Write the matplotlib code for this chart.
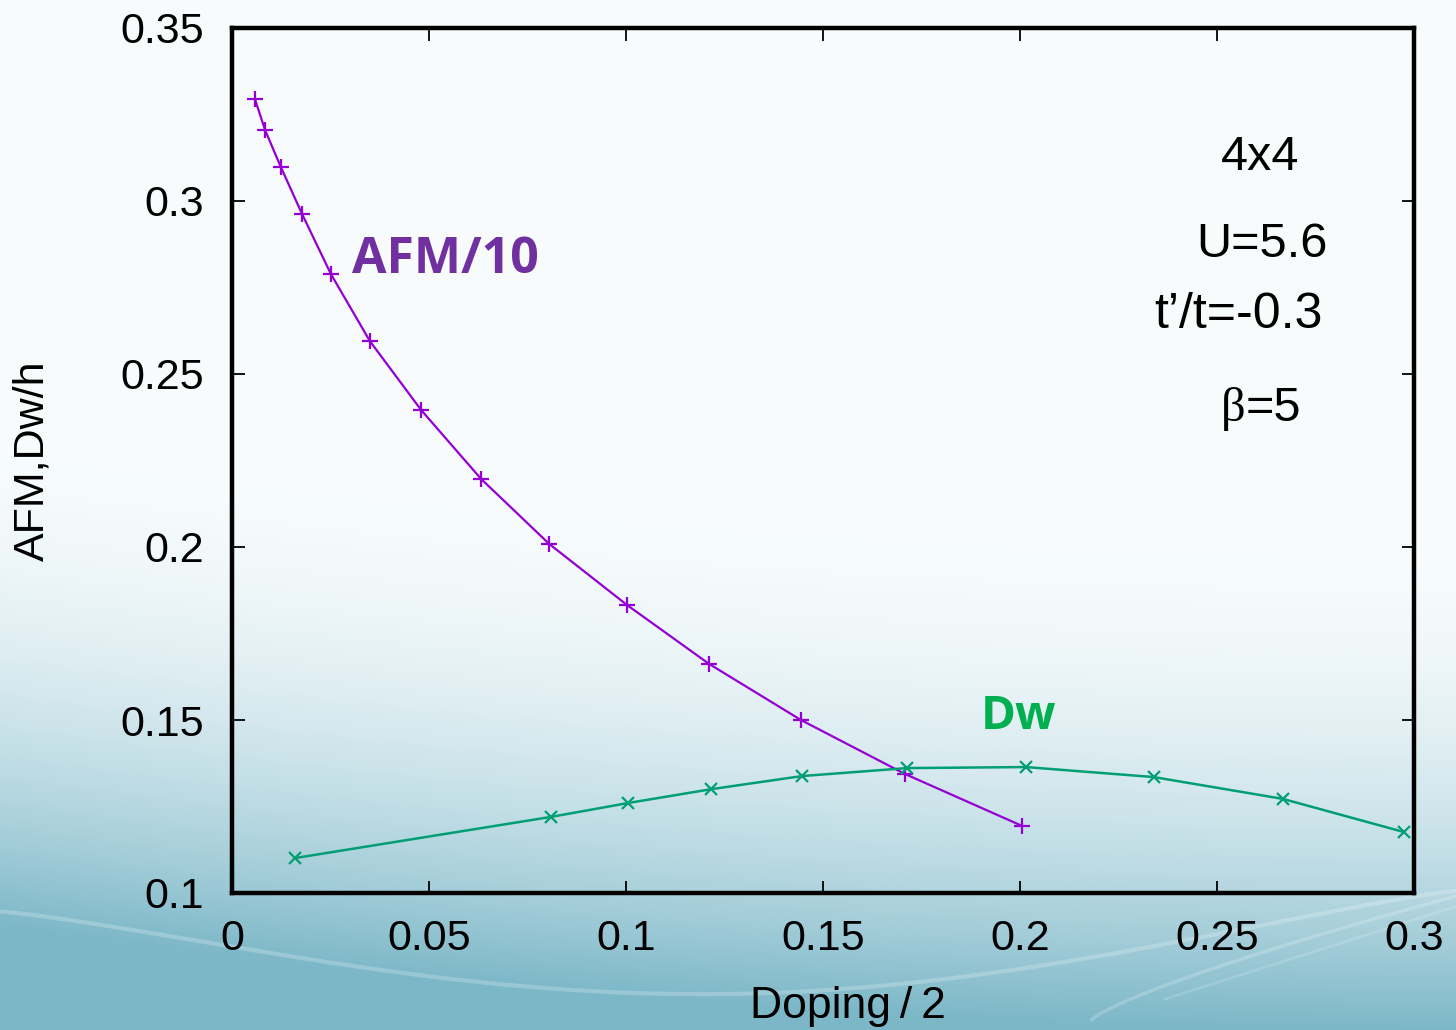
import numpy as np
import matplotlib
matplotlib.use("Agg")
import matplotlib.pyplot as plt

# Data: doping/2 versus AFM/10 and d-wave pairing
afm_x = [0.0058, 0.0084, 0.0124, 0.0178, 0.0251, 0.0350, 0.0480, 0.0632,
         0.0805, 0.1003, 0.1211, 0.1444, 0.1708, 0.2005]
afm_y = [0.3295, 0.3205, 0.3098, 0.2962, 0.2789, 0.2595, 0.2396, 0.2197,
         0.2009, 0.1832, 0.1662, 0.1500, 0.1344, 0.1194]

dw_x = [0.0160, 0.0810, 0.1005, 0.1216, 0.1447, 0.1713, 0.2015, 0.2340,
        0.2667, 0.2975]
dw_y = [0.1101, 0.1220, 0.1260, 0.1300, 0.1338, 0.1361, 0.1364, 0.1335,
        0.1272, 0.1176]

x_ticks = [0, 0.05, 0.1, 0.15, 0.2, 0.25, 0.3]
x_tick_labels = ["0", "0.05", "0.1", "0.15", "0.2", "0.25", "0.3"]
y_ticks = [0.1, 0.15, 0.2, 0.25, 0.3, 0.35]
y_tick_labels = ["0.1", "0.15", "0.2", "0.25", "0.3", "0.35"]

plt.rcParams['font.family'] = ['Liberation Sans', 'DejaVu Sans']

W, H = 1456, 1030
fig = plt.figure(figsize=(W / 100, H / 100), dpi=100)

# Slide-style background: white fading to teal toward the bottom
bg = fig.add_axes([0, 0, 1, 1], zorder=-10)
yy, xx = np.mgrid[0:1:400j, 0:1:600j]
f = np.clip((yy - 0.50 + 0.10 * (1 - xx) ** 2) / 0.50, 0, 1) ** 2.0
top = np.array([0.972, 0.988, 0.992])
bot = np.array([0.49, 0.72, 0.785])
img = top[None, None, :] * (1 - f[..., None]) + bot[None, None, :] * f[..., None]
bg.imshow(img, aspect='auto', extent=[0, 1, 1, 0], interpolation='bilinear')
# soft light swooshes
t = np.linspace(0, 1, 300)
bg.plot(t, 0.885 + 0.09 * np.sin(np.pi * t) ** 1.2 - 0.02 * t, color='white', alpha=0.22, lw=3)
bg.plot(0.75 + 0.25 * t, 0.99 - 0.12 * t ** 0.8, color='white', alpha=0.2, lw=2.5)
bg.plot(0.8 + 0.2 * t, 0.97 - 0.09 * t, color='white', alpha=0.15, lw=2)
bg.set_xlim(0, 1)
bg.set_ylim(1, 0)
bg.axis('off')

ax = fig.add_axes([232 / W, 1 - 893 / H, (1414 - 232) / W, (893 - 28) / H])
ax.set_facecolor('none')

ax.plot(afm_x, afm_y, color='#9400d3', lw=1.6, marker='+', ms=11, mew=1.6,
        clip_on=False, zorder=3)
ax.plot(dw_x, dw_y, color='#009e73', lw=1.8, marker='x', ms=9, mew=1.6,
        clip_on=False, zorder=3)

ax.set_xlim(0, 0.3)
ax.set_ylim(0.1, 0.35)
ax.set_xticks(x_ticks)
ax.set_xticklabels(x_tick_labels)
ax.set_yticks(y_ticks)
ax.set_yticklabels(y_tick_labels)
ax.tick_params(direction='in', length=9, width=1.3, top=True, right=True,
               labelsize=31, colors='black')
ax.tick_params(axis='x', pad=19)
ax.tick_params(axis='y', pad=20)
for s in ax.spines.values():
    s.set_linewidth(3.2)

ax.set_xlabel("Doping\u2009/\u20092", fontsize=32)
ax.xaxis.set_label_coords(0.521, -0.108)
ax.set_ylabel("AFM,Dw/h", fontsize=31)
ax.yaxis.set_label_coords(-0.152, 0.5)

ax.text(0.0305, 0.283, "AFM/10", color='#7030a0', fontsize=36,
        fontweight='bold', family='Open Sans', ha='left', va='center')
ax.text(0.1997, 0.151, "Dw", color='#00b050', fontsize=34,
        fontweight='bold', family='Open Sans', ha='center', va='center')

ax.text(0.261, 0.3127, "4x4", fontsize=35, ha='center', va='center')
ax.text(0.2615, 0.2873, "U=5.6", fontsize=35, ha='center', va='center')
ax.text(0.2555, 0.2670, "t\u2019/t=-0.3", fontsize=36, ha='center', va='center')
ax.text(0.2573, 0.2400, "\u03b2", fontsize=35, family='Liberation Serif',
        ha='right', va='center')
ax.text(0.2573, 0.2400, "=5", fontsize=35, ha='left', va='center')

fig.savefig("out.png", dpi=100)
